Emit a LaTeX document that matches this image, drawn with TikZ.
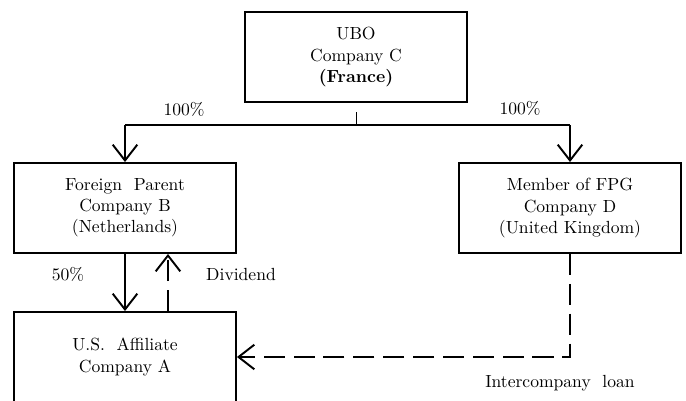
\documentclass[tikz,border=0pt]{standalone}
\usepackage{amsmath}
\usepackage{tikz}
\usetikzlibrary{arrows.meta}

\begin{document}
\begin{tikzpicture}[x=0.02cm,y=0.02cm,
		company/.style={draw,line width=1.1pt,minimum width=4.44cm,minimum height=1.8cm,inner sep=0pt,align=center},
		own/.style={line width=1.1pt,-{Straight Barb[length=9pt,width=14pt,line width=1.1pt]}},
		flow/.style={own,dash pattern=on 12pt off 5pt}]
					\useasboundingbox (0,0) rectangle (686,400);
					\clip (0,0) rectangle (686,400);
					
					\node[company] (ubo) at (356,343) {UBO\\Company C\\{\bfseries (France)}};
					\node[company] (parentB) at (125,192) {Foreign\ \ Parent\\Company B\\(Netherlands)};
					\node[company] (memberD) at (570,192) {Member of FPG\\Company D\\(United Kingdom)};
					\node[company] (affA) at (125,43) {U.S.\ \ Affiliate\\Company A};
					
					\coordinate (bar) at (356,275);
					\draw[thin] (bar) -- ++(0,13);
					\draw[line width=1.1pt] (parentB.north |- bar) -- (memberD.north |- bar);
					\draw[own] (parentB.north |- bar) -- (parentB.north);
					\draw[own] (memberD.north |- bar) -- (memberD.north);
					
					\draw[own] (parentB.south) -- (affA.north);
					\draw[flow] ([xshift=0.86cm]affA.north) -- ([xshift=0.86cm]parentB.south);
					\draw[flow] (memberD.south) |- (affA.east);
					
					\node (pctC) at (184,291) {100\%};
					\node (pctD) at (520,292) {100\%};
					\node (pctB) at (68,126) {50\%};
					\node (divlbl) at (241,126) {Dividend};
					\node (loanlbl) at (560,17) {Intercompany\ \ loan};
				\end{tikzpicture}
\end{document}
